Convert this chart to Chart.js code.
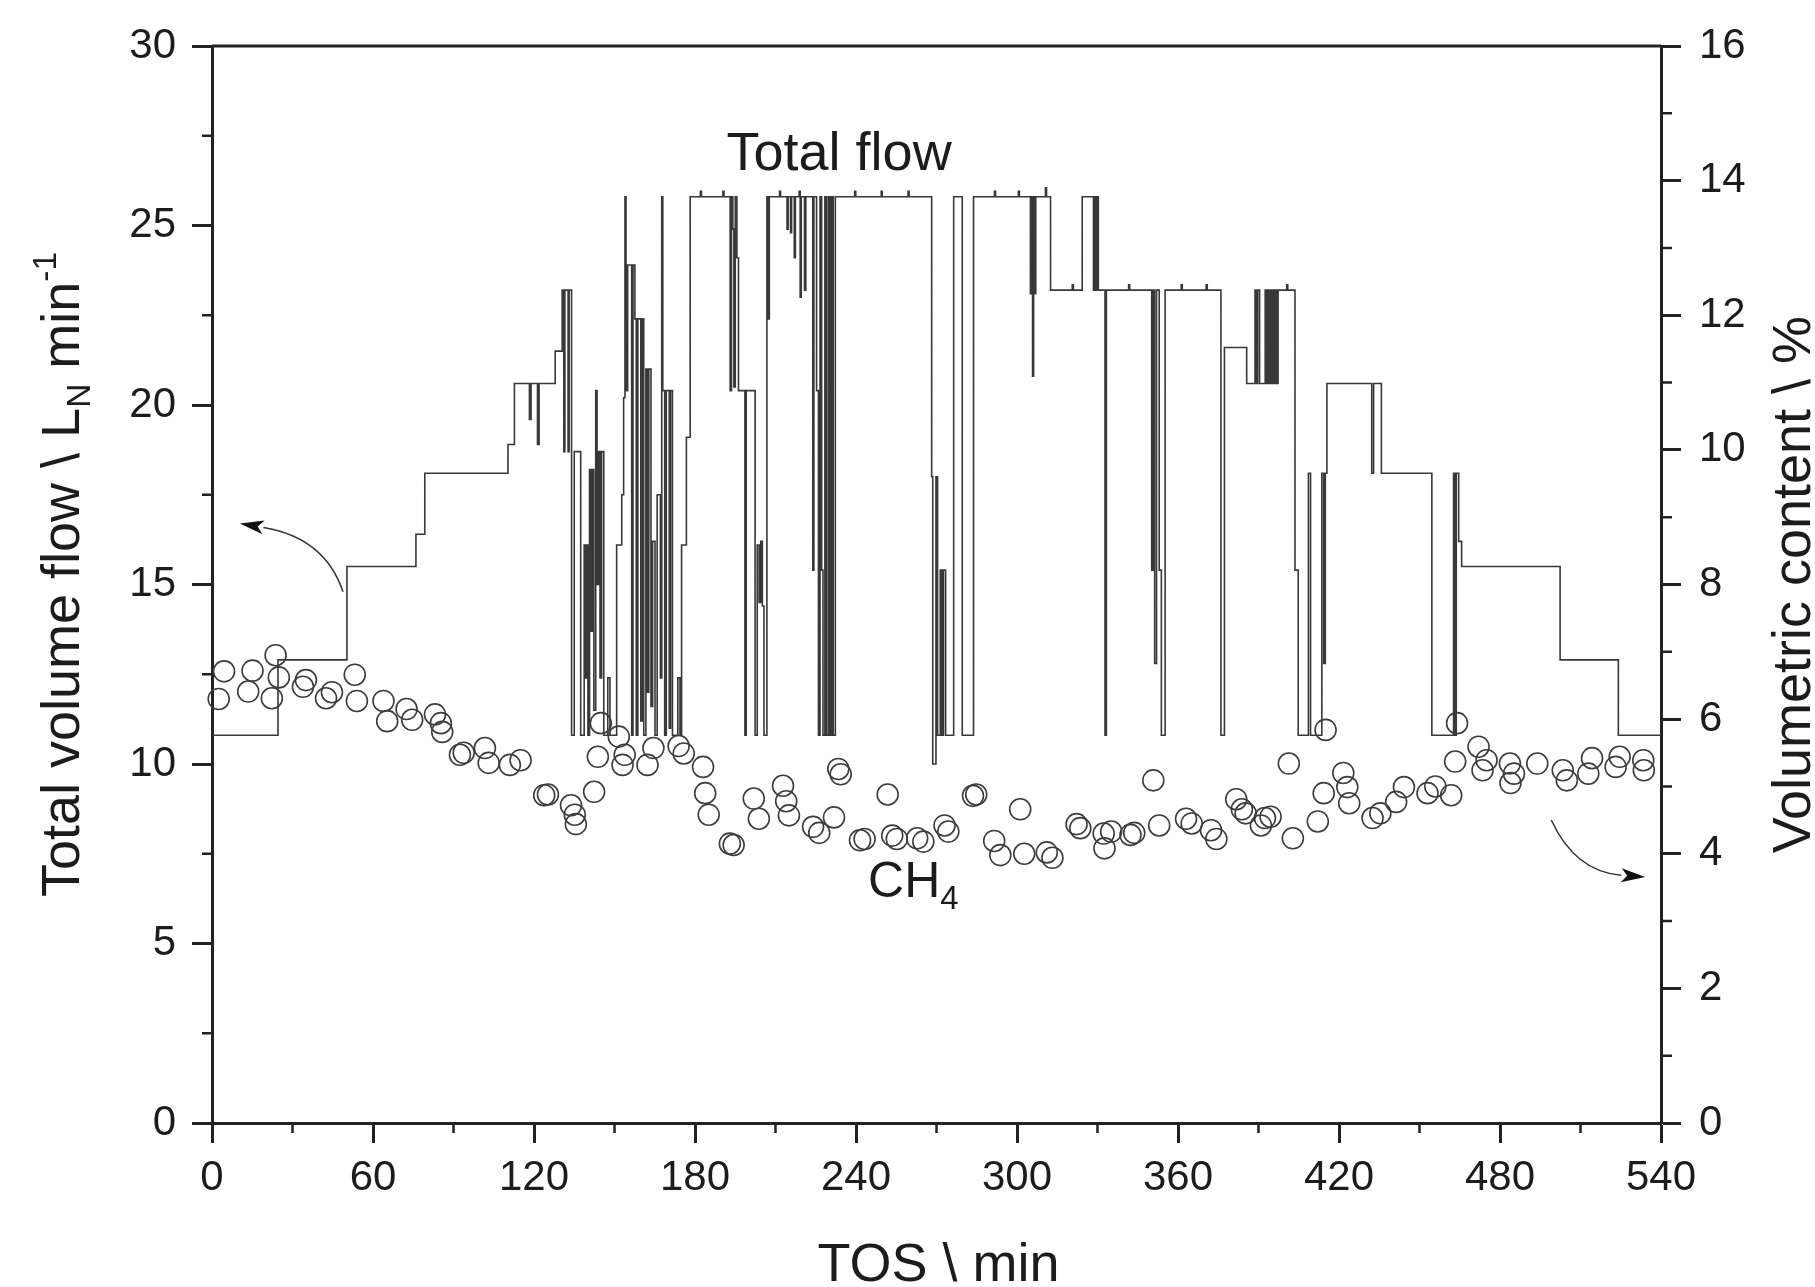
<!DOCTYPE html>
<html>
<head>
<meta charset="utf-8">
<script src="https://cdn.jsdelivr.net/npm/chart.js@4.4.1/dist/chart.umd.min.js"></script>
<style>
    html, body { margin: 0; padding: 0; background: #fff; }
    #wrap { width: 1815px; height: 1287px; position: relative; }
</style>
</head>
<body>
<div id="wrap"><canvas id="chart"></canvas></div>
<script>
// Total flow, stored as change points: from flowTime[i] on, the flow is flowValue[i]
const flowTime = [
    0, 24.6, 50.3, 76.0, 79.3, 110.3, 112.7, 118.3, 118.9, 121.3,
    121.9, 127.9, 130.5, 131.1, 131.5, 132.7, 133.1, 134.0, 135.0, 137.4,
    138.7, 139.2, 139.6, 140.1, 140.7, 141.2, 141.7, 142.3, 143.0, 143.5,
    144.0, 144.6, 145.2, 146.0, 147.5, 148.3, 150.8, 152.7, 153.4, 153.9,
    154.3, 154.9, 156.4, 156.9, 157.6, 158.1, 158.7, 159.8, 160.4, 160.9,
    161.7, 162.3, 162.8, 163.6, 164.2, 165.1, 165.9, 167.1, 167.6, 168.0,
    168.7, 169.3, 170.4, 170.9, 171.6, 173.6, 174.4, 175.0, 176.8, 178.2,
    182.0, 182.4, 190.4, 190.8, 193.1, 193.6, 194.1, 194.5, 195.0, 195.6,
    196.2, 198.6, 199.1, 202.4, 203.2, 203.9, 204.5, 205.1, 205.7, 206.8,
    207.3, 207.7, 211.5, 211.9, 214.3, 214.7, 215.6, 216.0, 217.0, 217.4,
    218.8, 219.2, 219.6, 220.8, 221.3, 223.9, 224.3, 225.3, 226.0, 226.6,
    227.2, 227.7, 228.4, 229.0, 229.7, 230.3, 230.9, 231.5, 232.3, 239.5,
    239.9, 249.4, 249.8, 259.4, 259.8, 268.2, 268.6, 269.8, 270.4, 271.4,
    272.0, 272.6, 273.4, 276.4, 279.6, 283.8, 291.6, 292.0, 300.5, 300.9,
    305.0, 305.4, 305.8, 306.2, 306.6, 307.0, 310.6, 311.0, 312.5, 320.6,
    321.0, 324.3, 328.5, 328.9, 329.4, 329.8, 330.3, 332.8, 333.3, 341.6,
    342.0, 350.2, 350.8, 351.3, 352.0, 353.0, 353.8, 355.2, 361.2, 361.6,
    370.5, 370.9, 376.0, 377.3, 385.6, 388.7, 389.2, 389.7, 390.4, 392.5,
    393.1, 393.7, 394.3, 394.9, 395.5, 396.1, 396.7, 397.3, 400.5, 400.9,
    403.6, 404.8, 408.6, 409.4, 413.6, 414.3, 414.9, 415.5, 432.2, 432.9,
    435.8, 454.6, 462.7, 463.2, 463.7, 464.6, 465.7, 502.4, 524.1, 540
];
const flowValue = [
    10.8, 12.9, 15.5, 16.4, 18.1, 18.9, 20.6, 19.6, 20.6, 18.9,
    20.6, 21.5, 23.2, 18.7, 23.2, 18.7, 23.2, 10.8, 18.7, 10.8,
    16.1, 12.4, 16.1, 10.8, 18.2, 13.7, 18.2, 11.5, 20.4, 15.0,
    18.7, 12.4, 18.7, 10.8, 12.4, 10.8, 16.1, 17.5, 20.2, 25.8,
    20.4, 23.9, 10.8, 23.9, 22.4, 10.8, 22.4, 11.2, 22.4, 10.8,
    21.0, 12.0, 21.0, 11.6, 16.2, 10.8, 17.5, 12.4, 25.8, 20.4,
    10.8, 20.4, 11.0, 20.4, 10.8, 12.4, 10.8, 16.1, 19.1, 25.8,
    25.95, 25.8, 25.95, 25.8, 20.4, 25.8, 24.9, 20.5, 25.8, 24.1,
    20.4, 10.8, 20.4, 10.8, 16.1, 14.5, 16.2, 14.4, 10.8, 25.8,
    22.4, 25.8, 25.95, 25.8, 24.9, 25.8, 24.8, 25.8, 24.1, 25.8,
    25.95, 23.0, 25.8, 23.2, 25.8, 15.4, 25.8, 20.4, 10.8, 25.8,
    15.4, 10.8, 25.8, 10.8, 25.8, 10.8, 25.8, 10.8, 25.8, 25.95,
    25.8, 25.95, 25.8, 25.95, 25.8, 18.0, 10.0, 18.0, 10.8, 15.4,
    10.8, 15.4, 10.8, 25.8, 10.8, 25.8, 25.95, 25.8, 25.95, 25.8,
    23.1, 25.8, 20.8, 25.8, 23.1, 25.8, 26.05, 25.8, 23.2, 23.35,
    23.2, 25.8, 23.2, 25.8, 23.2, 25.8, 23.2, 10.8, 23.2, 23.35,
    23.2, 15.4, 23.2, 12.8, 23.2, 15.4, 10.8, 23.2, 23.35, 23.2,
    23.35, 23.2, 10.8, 21.6, 20.6, 23.2, 20.6, 23.2, 20.6, 23.2,
    20.6, 23.2, 20.6, 23.2, 20.6, 23.2, 20.6, 23.2, 23.35, 23.2,
    15.4, 10.8, 18.1, 10.8, 18.1, 12.8, 18.1, 20.6, 18.1, 20.6,
    18.1, 10.8, 18.1, 10.8, 18.1, 16.2, 15.5, 12.9, 10.8, 10.8
];

// CH4 volumetric content (right axis)
const ch4Time = [
    2.5, 4.5, 13.5, 15.1, 22.3, 23.7, 24.9, 33.9, 35.0, 42.5,
    44.7, 53.2, 54.0, 63.9, 65.3, 72.5, 74.6, 83.1, 85.3, 85.8,
    92.4, 93.8, 101.7, 103.1, 111.0, 115.0, 123.8, 125.2, 133.8, 135.2,
    135.6, 142.4, 143.8, 144.9, 151.6, 153.0, 153.8, 162.3, 164.5, 173.9,
    175.8, 183.0, 183.8, 185.1, 193.0, 194.4, 201.9, 203.8, 212.8, 214.0,
    215.0, 224.0, 226.3, 231.8, 233.4, 234.3, 241.5, 243.2, 251.8, 253.5,
    255.2, 262.8, 265.1, 273.0, 274.4, 283.6, 284.8, 291.5, 293.8, 301.2,
    302.7, 311.1, 313.2, 322.2, 323.6, 332.3, 332.6, 335.1, 342.3, 343.7,
    350.8, 353.0, 363.0, 365.1, 372.3, 374.3, 381.7, 383.8, 385.2, 390.9,
    392.4, 394.5, 401.3, 402.8, 412.1, 414.3, 415.0, 421.6, 423.1, 423.8,
    432.5, 435.4, 441.3, 444.2, 453.0, 455.9, 461.8, 463.3, 464.0, 472.0,
    473.5, 475.0, 483.7, 483.9, 485.2, 493.9, 503.4, 504.9, 512.9, 514.3,
    523.1, 524.6, 533.4, 533.6
];
const ch4Content = [
    6.30, 6.71, 6.41, 6.72, 6.31, 6.95, 6.62, 6.48, 6.58, 6.31,
    6.40, 6.66, 6.27, 6.27, 5.97, 6.15, 5.99, 6.07, 5.94, 5.81,
    5.47, 5.50, 5.57, 5.35, 5.32, 5.39, 4.87, 4.88, 4.72, 4.58,
    4.44, 4.92, 5.44, 5.94, 5.74, 5.32, 5.47, 5.32, 5.57, 5.60,
    5.49, 5.29, 4.90, 4.58, 4.15, 4.13, 4.82, 4.52, 5.01, 4.78,
    4.57, 4.40, 4.31, 4.54, 5.26, 5.18, 4.20, 4.22, 4.88, 4.27,
    4.22, 4.23, 4.18, 4.42, 4.33, 4.86, 4.88, 4.19, 3.98, 4.66,
    4.00, 4.02, 3.94, 4.44, 4.38, 4.30, 4.08, 4.33, 4.28, 4.31,
    5.09, 4.42, 4.52, 4.45, 4.35, 4.22, 4.81, 4.66, 4.60, 4.42,
    4.53, 4.55, 5.34, 4.23, 4.48, 4.90, 5.84, 5.20, 4.99, 4.75,
    4.53, 4.60, 4.77, 4.99, 4.90, 5.00, 4.87, 5.37, 5.94, 5.59,
    5.24, 5.39, 5.34, 5.05, 5.19, 5.34, 5.24, 5.09, 5.19, 5.42,
    5.29, 5.44, 5.39, 5.24
];

// Minor tick positions
const xMinorTicks = [30, 90, 150, 210, 270, 330, 390, 450, 510];
const yMinorTicks = [2.5, 7.5, 12.5, 17.5, 22.5, 27.5];
const y2MinorTicks = [1, 3, 5, 7, 9, 11, 13, 15];

const FONT = "'Liberation Sans', Arial, sans-serif";
const INK = '#1c1c1c';
const TITLE_SIZE = 54;

// Draw a row of text pieces (with sub/superscripts) centred on x
function drawRichText(ctx, parts, x, y, angle, size, align) {
    ctx.save();
    ctx.translate(x, y);
    ctx.rotate(angle);
    ctx.fillStyle = INK;
    ctx.textBaseline = 'alphabetic';
    ctx.textAlign = 'left';
    let total = 0;
    const widths = parts.map(p => {
        ctx.font = `${size * p[1]}px ${FONT}`;
        const w = ctx.measureText(p[0]).width;
        total += w;
        return w;
    });
    let cx = align === 'left' ? 0 : -total / 2;
    parts.forEach((p, i) => {
        ctx.font = `${size * p[1]}px ${FONT}`;
        ctx.fillText(p[0], cx, -p[2] * size);
        cx += widths[i];
    });
    ctx.restore();
}

// Curved arrow from start to tip, both given in chart values
function drawArrow(ctx, x, y, from, ctrl, tip) {
    const p0 = [x.getPixelForValue(from[0]), y.getPixelForValue(from[1])];
    const pc = [x.getPixelForValue(ctrl[0]), y.getPixelForValue(ctrl[1])];
    const pt = [x.getPixelForValue(tip[0]), y.getPixelForValue(tip[1])];
    const ang = Math.atan2(pt[1] - pc[1], pt[0] - pc[0]);
    const len = 24, half = 7;
    const base = [pt[0] - len * Math.cos(ang), pt[1] - len * Math.sin(ang)];
    ctx.save();
    ctx.strokeStyle = '#333';
    ctx.lineWidth = 1.5;
    ctx.beginPath();
    ctx.moveTo(p0[0], p0[1]);
    ctx.quadraticCurveTo(pc[0], pc[1], base[0], base[1]);
    ctx.stroke();
    ctx.fillStyle = '#111';
    ctx.beginPath();
    ctx.moveTo(pt[0], pt[1]);
    ctx.lineTo(base[0] + half * Math.sin(ang), base[1] - half * Math.cos(ang));
    ctx.lineTo(base[0] + 6 * Math.cos(ang), base[1] + 6 * Math.sin(ang));
    ctx.lineTo(base[0] - half * Math.sin(ang), base[1] + half * Math.cos(ang));
    ctx.closePath();
    ctx.fill();
    ctx.restore();
}

// Top frame line and minor ticks
const framePlugin = {
    id: 'frame',
    afterDraw(chart) {
        const { ctx, chartArea: a, scales } = chart;
        ctx.save();
        ctx.strokeStyle = '#222';
        ctx.lineWidth = 3;
        ctx.beginPath();
        ctx.moveTo(a.left, a.top);
        ctx.lineTo(a.right, a.top);
        ctx.stroke();
        ctx.lineWidth = 2.5;
        ctx.beginPath();
        xMinorTicks.forEach(v => {
            const px = scales.x.getPixelForValue(v);
            ctx.moveTo(px, a.bottom);
            ctx.lineTo(px, a.bottom + 10);
        });
        yMinorTicks.forEach(v => {
            const py = scales.y.getPixelForValue(v);
            ctx.moveTo(a.left - 10, py);
            ctx.lineTo(a.left, py);
        });
        y2MinorTicks.forEach(v => {
            const py = scales.y2.getPixelForValue(v);
            ctx.moveTo(a.right, py);
            ctx.lineTo(a.right + 11, py);
        });
        ctx.stroke();
        ctx.restore();
    }
};

// Axis titles, labels and arrows
const labelPlugin = {
    id: 'labels',
    afterDraw(chart) {
        const { ctx, chartArea: a, scales } = chart;
        const x = scales.x, y = scales.y;
        const midY = (a.top + a.bottom) / 2;
        drawRichText(ctx, [['TOS \\ min', 1, 0]], (a.left + a.right) / 2 + 2, 1281, 0, TITLE_SIZE);
        drawRichText(ctx, [
            ['Total volume flow \\ L', 1, 0],
            ['N', 0.62, -0.2],
            [' min', 1, 0],
            ['-1', 0.62, 0.42]
        ], 79, midY - 10, -Math.PI / 2, TITLE_SIZE);
        drawRichText(ctx, [['Volumetric content \\ %', 1, 0]], 1810, midY, -Math.PI / 2, TITLE_SIZE);
        drawRichText(ctx, [['Total flow', 1, 0]], x.getPixelForValue(233.7), y.getPixelForValue(26.55), 0, TITLE_SIZE);
        drawRichText(ctx, [['CH', 1, 0], ['4', 0.66, -0.24]],
            x.getPixelForValue(244.5), y.getPixelForValue(6.3), 0, 50, 'left');
        drawArrow(ctx, x, y, [48.8, 14.8], [42.1, 16.3], [10.4, 16.7]);
        drawArrow(ctx, x, y, [499.1, 8.44], [508.0, 7.0], [534.1, 6.85]);
    }
};

const flowPoints = flowTime.map((t, i) => ({ x: t, y: flowValue[i] }));
const ch4Points = ch4Time.map((t, i) => ({ x: t, y: ch4Content[i] }));

function axisTicks(padding) {
    return { font: { family: FONT, size: 42 }, color: INK, padding: padding };
}
function axisGrid() {
    return { drawOnChartArea: false, drawTicks: true, tickLength: 20, tickWidth: 3, tickColor: '#222' };
}

new Chart(document.getElementById('chart'), {
    type: 'scatter',
    data: {
        datasets: [
            {
                label: 'CH4',
                data: ch4Points,
                yAxisID: 'y2',
                showLine: false,
                pointRadius: 10.5,
                pointBorderWidth: 1.6,
                pointBorderColor: '#3d3d3d',
                pointBackgroundColor: 'rgba(255,255,255,0)',
                clip: false
            },
            {
                label: 'Total flow',
                data: flowPoints,
                yAxisID: 'y',
                showLine: true,
                stepped: true,
                borderColor: '#383838',
                borderWidth: 1.6,
                pointRadius: 0,
                fill: false
            }
        ]
    },
    options: {
        responsive: true,
        maintainAspectRatio: false,
        animation: false,
        layout: { padding: { top: 46, left: 0, right: 0, bottom: 0 } },
        plugins: { legend: { display: false }, tooltip: { enabled: false } },
        scales: {
            x: {
                type: 'linear',
                min: 0,
                max: 540,
                ticks: { ...axisTicks(10), stepSize: 60 },
                grid: axisGrid(),
                border: { display: true, color: '#222', width: 3 },
                afterFit: s => { s.height = 164; }
            },
            y: {
                position: 'left',
                min: 0,
                max: 30,
                ticks: { ...axisTicks(16), stepSize: 5 },
                grid: axisGrid(),
                border: { display: true, color: '#222', width: 3 },
                afterFit: s => { s.width = 212; }
            },
            y2: {
                position: 'right',
                min: 0,
                max: 16,
                ticks: { ...axisTicks(18), stepSize: 2 },
                grid: axisGrid(),
                border: { display: true, color: '#222', width: 3 },
                afterFit: s => { s.width = 154; }
            }
        }
    },
    plugins: [framePlugin, labelPlugin]
});
</script>
</body>
</html>
